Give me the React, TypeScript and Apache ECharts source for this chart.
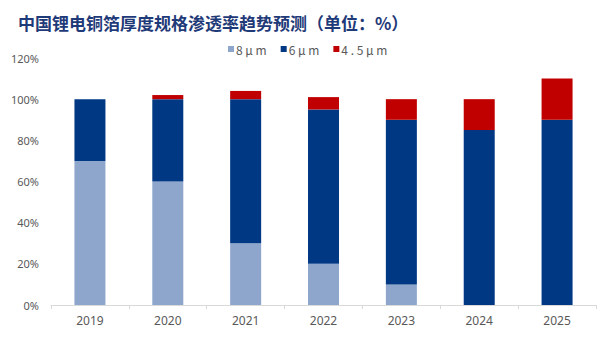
import React, { useEffect, useRef } from "react";
import * as echarts from "echarts";

const years = ["2019", "2020", "2021", "2022", "2023", "2024", "2025"];
const s8 = [70, 60, 30, 20, 10, 0, 0];
const s6 = [30, 40, 70, 75, 80, 85, 90];
const s45 = [0, 2, 4, 6, 10, 15, 20];
const seriesNames = ["8μm", "6μm", "4.5μm"];
const yTicks = [0, 20, 40, 60, 80, 100, 120];

export default function App() {
  const ref = useRef<HTMLDivElement>(null);
  useEffect(() => {
    const chart = echarts.init(ref.current!, null, { renderer: "svg" });
    const colors = ["#8EA6CB", "#003884", "#C00000"];
    const datas = [s8, s6, s45];
    chart.setOption({
      animation: false,
      title: {
        text: "中国锂电铜箔厚度规格渗透率趋势预测（单位：%）",
        left: 5,
        top: 1,
        textStyle: {
          fontFamily: "Noto Sans CJK SC",
          fontWeight: "bold",
          fontSize: 17,
          color: "#1F3A78",
        },
      },
      legend: {
        left: 215,
        top: 30,
        itemWidth: 6,
        itemHeight: 6,
        itemGap: 14,
        icon: "rect",
        textStyle: { color: "#595959", fontSize: 12, fontFamily: "Noto Sans CJK SC", padding: [0, 0, 0, -3] },
        formatter: (n: string) => n.split("").join(" "),
        data: seriesNames,
      },
      grid: { left: 40, right: 12, top: 50, bottom: 30 },
      xAxis: {
        type: "category",
        data: years,
        axisLine: { lineStyle: { color: "#D9D9D9", width: 1 } },
        axisTick: { show: true, length: 4, lineStyle: { color: "#D9D9D9" } },
        axisLabel: { color: "#595959", fontSize: 12, margin: 9, fontFamily: "Noto Sans" },
      },
      yAxis: {
        type: "value",
        min: yTicks[0],
        max: yTicks[yTicks.length - 1],
        interval: 20,
        splitLine: { show: false },
        axisLine: { show: false },
        axisTick: { show: false },
        axisLabel: { color: "#595959", fontSize: 11, formatter: "{value}%", margin: 12, fontFamily: "Noto Sans" },
      },
      series: seriesNames.map((name, i) => ({
        name,
        type: "bar",
        stack: "total",
        barWidth: 31,
        data: datas[i],
        itemStyle: { color: colors[i] },
      })),
    });
    return () => chart.dispose();
  }, []);
  return <div ref={ref} style={{ width: 600, height: 327 }} />;
}
